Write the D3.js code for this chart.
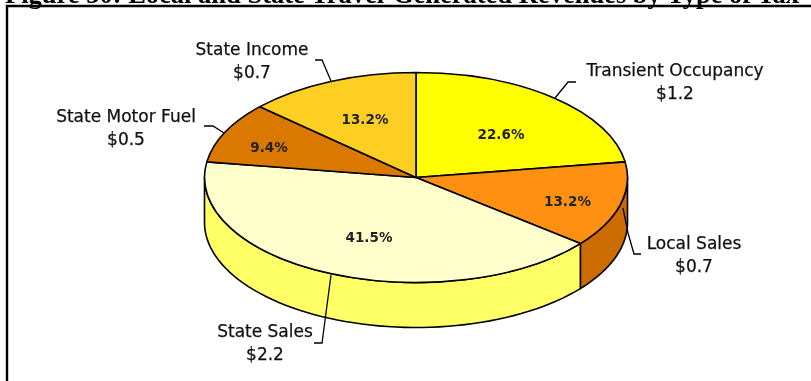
<!DOCTYPE html>
<html><head><meta charset="utf-8">
<script src="https://cdn.jsdelivr.net/npm/d3@7/dist/d3.min.js"></script>
<style>html,body{margin:0;padding:0;background:#fff;overflow:hidden}svg{display:block;filter:blur(0.35px)}</style>
</head><body><svg id="c" width="811" height="381"></svg>
<script>
const title = "Figure 30: Local and State Travel-Generated Revenues by Type of Tax";
const categories = ["Transient Occupancy","Local Sales","State Sales","State Motor Fuel","State Income"];
const amounts = ["$1.2","$0.7","$2.2","$0.5","$0.7"];
const shares = [22.6,13.2,41.5,9.4,13.2];
const topColors = ["#FFFF00","#FF9012","#FFFFCC","#DB7800","#FCCF22"];
const wallColors = ["#FFFF00","#CC6C00","#FFFF66","#DB7800","#FCCF22"];

const cx=416, cy=177.5, rx=211.5, ry=105, depth=45;
const svg=d3.select("#c");
svg.append("text").attr("x",5).attr("y",2.5).attr("font-family","Liberation Serif")
  .attr("font-weight","bold").attr("font-size",26.5).attr("fill","#000").text(title);
svg.append("path").attr("d","M7,381V6H811").attr("fill","none").attr("stroke","#000").attr("stroke-width",2.4);

const arcs=d3.pie().sort(null).value(d=>d)(shares);
const pt=(a,dy=0)=>[cx+rx*Math.sin(a),cy-ry*Math.cos(a)+dy];
const line=d3.line();
const g=svg.append("g");
// side walls: only the front half (90deg to 270deg) is visible
arcs.forEach((d,i)=>{
  const a0=Math.max(d.startAngle,Math.PI/2), a1=Math.min(d.endAngle,Math.PI*1.5);
  if(a1<=a0) return;
  const s=d3.range(0,61).map(k=>a0+(a1-a0)*k/60);
  const pts=s.map(a=>pt(a)).concat(s.slice().reverse().map(a=>pt(a,depth)));
  g.append("path").attr("d",line(pts)+"Z").attr("fill",wallColors[i]).attr("stroke","#000")
   .attr("stroke-width",1.6).attr("stroke-linejoin","round");
});
// top face
const arc=d3.arc().innerRadius(0).outerRadius(rx);
g.append("g").attr("transform",`translate(${cx},${cy}) scale(1,${ry/rx})`)
 .selectAll("path").data(arcs).join("path")
 .attr("d",arc).attr("fill",(d,i)=>topColors[i]).attr("stroke","#000")
 .attr("stroke-width",1.6).attr("vector-effect","non-scaling-stroke").attr("stroke-linejoin","round");

// percent labels
const font="DejaVu Sans";
const labelAt=[[501,139],[567.5,206],[369,242],[269,152],[365,124]];
shares.forEach((v,i)=>{
  svg.append("text").attr("x",labelAt[i][0]).attr("y",labelAt[i][1]).attr("text-anchor","middle")
    .attr("font-family",font).attr("font-size",13.5).attr("font-weight","bold").attr("fill","#222")
    .text(v.toFixed(1)+"%");
});

// leaders and callouts
const leaders=[
 [[576,82],[568,82],[555,98]],
 [[641,254],[634,254],[628,233],[623,208]],
 [[314,343],[322,343],[331,275]],
 [[204,126],[213,126],[224,133]],
 [[315,60],[322,60],[331,81]]
];
const callouts=[[675,76],[694,249],[265,337],[126,122],[252,55]];
leaders.forEach(l=>svg.append("path").attr("d",line(l)).attr("fill","none").attr("stroke","#000").attr("stroke-width",1.3));
categories.forEach((c,i)=>{
  const t=svg.append("text").attr("text-anchor","middle").attr("font-family",font)
    .attr("font-size",17).attr("fill","#111").attr("stroke","#111").attr("stroke-width",0.25);
  t.append("tspan").attr("x",callouts[i][0]).attr("y",callouts[i][1]).text(c);
  t.append("tspan").attr("x",callouts[i][0]).attr("y",callouts[i][1]+23).text(amounts[i]);
});
</script></body></html>
